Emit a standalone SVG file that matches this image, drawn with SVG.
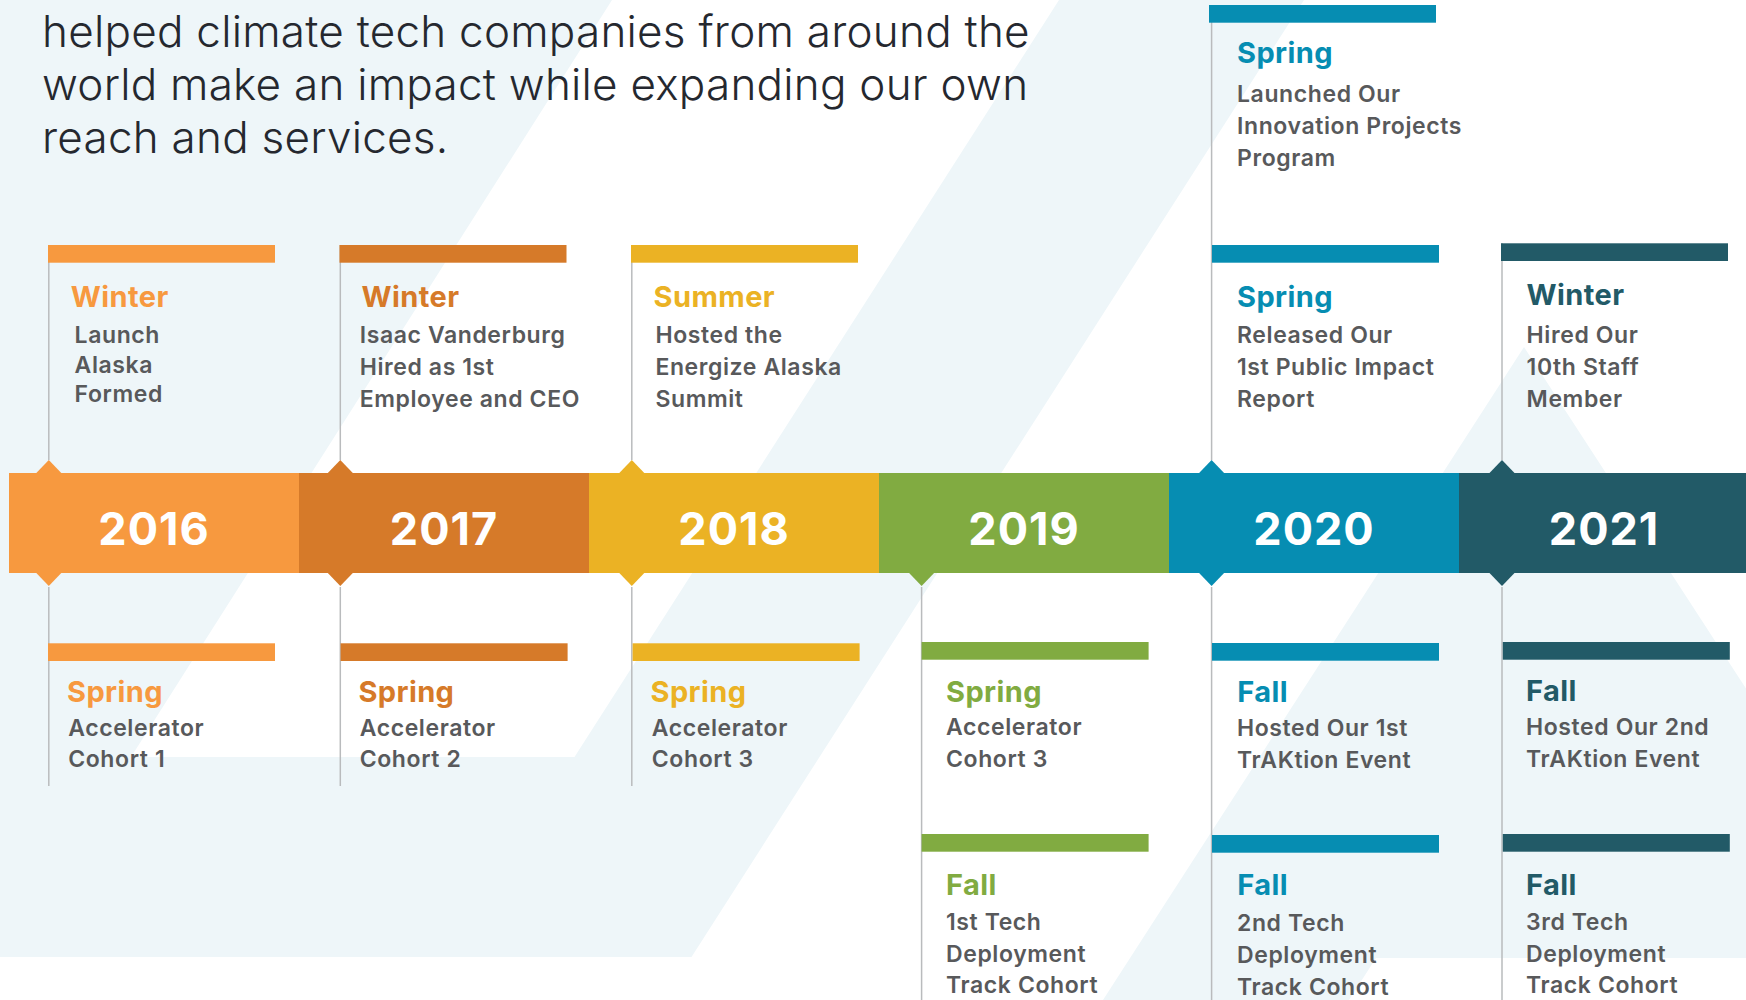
<svg xmlns="http://www.w3.org/2000/svg" width="1746" height="1000" viewBox="0 0 1746 1000">
  <style>
    .bg { fill: #eef6f9; }
    .intro { font-family: Inter, Lato, sans-serif; font-weight: 300; font-size: 44px; letter-spacing: 0.25px; fill: #25282f; }
    .year { font-family: Inter, Lato, sans-serif; font-weight: 700; font-size: 45px; letter-spacing: 1px; fill: #ffffff; text-anchor: middle; }
    .season { font-family: Inter, Lato, sans-serif; font-weight: 700; font-size: 29px; letter-spacing: 0.4px; }
    .body { font-family: Inter, Lato, sans-serif; font-weight: 600; font-size: 23px; letter-spacing: 0.6px; fill: #58595b; }
    .stem { stroke: #b9bbbd; stroke-width: 1.5; fill: none; }
    .c16 { fill: #f7993f; } .c17 { fill: #d67a29; } .c18 { fill: #ebb224; }
    .c19 { fill: #81ab41; } .c20 { fill: #068db2; } .c21 { fill: #225a67; }
  </style>
  <defs>
    <!-- colored header strip of an event card -->
    <rect id="strip" width="227" height="17.7"/>
    <!-- half diamonds that mark an event on the year band -->
    <path id="tipUp" d="M-12.5 0 L0 -13 L12.5 0 Z"/>
    <path id="tipDown" d="M-12.5 0 L0 13 L12.5 0 Z"/>
  </defs>

  <rect width="1746" height="1000" fill="#ffffff"/>

  <!-- background chevrons -->
  <g id="backdrop">
    <path class="bg" d="M0 0 L612 0 L131 757 L574.5 757 L1059 0 L1304 0 L691.5 957 L0 957 Z"/>
    <path class="bg" d="M1524 347 L1746 688.5 L1746 958 L1376 958 L1349 1000 L1103 1000 Z"/>
  </g>

  <g id="intro">
    <text class="intro" x="42" y="47">helped climate tech companies from around the</text>
    <text class="intro" x="42" y="100">world make an impact while expanding our own</text>
    <text class="intro" x="42" y="153">reach and services.</text>
  </g>

  <!-- connectors: grey stems from the cards to the band -->
  <g id="connectors">
    <line class="stem" x1="48.8" y1="245" x2="48.8" y2="460"/>
    <line class="stem" x1="340.3" y1="245" x2="340.3" y2="460"/>
    <line class="stem" x1="631.8" y1="245" x2="631.8" y2="460"/>
    <line class="stem" x1="1211.6" y1="5" x2="1211.6" y2="460"/>
    <line class="stem" x1="1502" y1="243" x2="1502" y2="460"/>
    <line class="stem" x1="48.8" y1="587" x2="48.8" y2="786"/>
    <line class="stem" x1="340.3" y1="587" x2="340.3" y2="786"/>
    <line class="stem" x1="631.8" y1="587" x2="631.8" y2="786"/>
    <line class="stem" x1="921.6" y1="587" x2="921.6" y2="1000"/>
    <line class="stem" x1="1211.6" y1="587" x2="1211.6" y2="1000"/>
    <line class="stem" x1="1502" y1="587" x2="1502" y2="1000"/>
  </g>

  <!-- year band -->
  <g id="band">
    <g id="y2016">
      <rect class="c16" x="9" y="473" width="290" height="100"/>
      <use href="#tipUp" class="c16" x="48.8" y="473"/>
      <use href="#tipDown" class="c16" x="48.8" y="573"/>
      <text class="year" x="154" y="545">2016</text>
    </g>
    <g id="y2017">
      <rect class="c17" x="299" y="473" width="290" height="100"/>
      <use href="#tipUp" class="c17" x="340.3" y="473"/>
      <use href="#tipDown" class="c17" x="340.3" y="573"/>
      <text class="year" x="444" y="545">2017</text>
    </g>
    <g id="y2018">
      <rect class="c18" x="589" y="473" width="290" height="100"/>
      <use href="#tipUp" class="c18" x="631.8" y="473"/>
      <use href="#tipDown" class="c18" x="631.8" y="573"/>
      <text class="year" x="734" y="545">2018</text>
    </g>
    <g id="y2019">
      <rect class="c19" x="879" y="473" width="290" height="100"/>
      <use href="#tipDown" class="c19" x="921.6" y="573"/>
      <text class="year" x="1024" y="545">2019</text>
    </g>
    <g id="y2020">
      <rect class="c20" x="1169" y="473" width="290" height="100"/>
      <use href="#tipUp" class="c20" x="1211.6" y="473"/>
      <use href="#tipDown" class="c20" x="1211.6" y="573"/>
      <text class="year" x="1314" y="545">2020</text>
    </g>
    <g id="y2021">
      <rect class="c21" x="1459" y="473" width="287" height="100"/>
      <use href="#tipUp" class="c21" x="1502" y="473"/>
      <use href="#tipDown" class="c21" x="1502" y="573"/>
      <text class="year" x="1604" y="545">2021</text>
    </g>
  </g>

  <!-- cards above the band -->
  <g id="e2016-winter">
    <use href="#strip" class="c16" x="48" y="245"/>
    <text class="season c16" x="70.8" y="307">Winter</text>
    <text class="body" x="74.6" y="343">Launch</text>
    <text class="body" x="74.6" y="372.5">Alaska</text>
    <text class="body" x="74.6" y="402">Formed</text>
  </g>
  <g id="e2017-winter">
    <use href="#strip" class="c17" x="339.5" y="245"/>
    <text class="season c17" x="361.6" y="307">Winter</text>
    <text class="body" x="359.7" y="343">Isaac Vanderburg</text>
    <text class="body" x="359.7" y="375">Hired as 1st</text>
    <text class="body" x="359.7" y="406.7">Employee and CEO</text>
  </g>
  <g id="e2018-summer">
    <use href="#strip" class="c18" x="631" y="245"/>
    <text class="season c18" x="653.6" y="307">Summer</text>
    <text class="body" x="655.4" y="343">Hosted the</text>
    <text class="body" x="655.4" y="375">Energize Alaska</text>
    <text class="body" x="655.4" y="406.7">Summit</text>
  </g>
  <g id="e2020-spring-a">
    <use href="#strip" class="c20" x="1209" y="5"/>
    <text class="season c20" x="1237" y="63">Spring</text>
    <text class="body" x="1237" y="101.7">Launched Our</text>
    <text class="body" x="1237" y="133.5">Innovation Projects</text>
    <text class="body" x="1237" y="165.5">Program</text>
  </g>
  <g id="e2020-spring-b">
    <use href="#strip" class="c20" x="1212" y="245"/>
    <text class="season c20" x="1237" y="306.7">Spring</text>
    <text class="body" x="1237" y="342.7">Released Our</text>
    <text class="body" x="1237" y="375">1st Public Impact</text>
    <text class="body" x="1237" y="406.7">Report</text>
  </g>
  <g id="e2021-winter">
    <use href="#strip" class="c21" x="1501" y="243.3"/>
    <text class="season c21" x="1526.6" y="305">Winter</text>
    <text class="body" x="1526.6" y="342.7">Hired Our</text>
    <text class="body" x="1526.6" y="375">10th Staff</text>
    <text class="body" x="1526.6" y="406.7">Member</text>
  </g>

  <!-- cards below the band -->
  <g id="e2016-spring">
    <use href="#strip" class="c16" x="48" y="643.3"/>
    <text class="season c16" x="67" y="701.7">Spring</text>
    <text class="body" x="68.2" y="736">Accelerator</text>
    <text class="body" x="68.2" y="767.3">Cohort 1</text>
  </g>
  <g id="e2017-spring">
    <use href="#strip" class="c17" x="340.6" y="643.3"/>
    <text class="season c17" x="358.4" y="701.7">Spring</text>
    <text class="body" x="359.7" y="736">Accelerator</text>
    <text class="body" x="359.7" y="767.3">Cohort 2</text>
  </g>
  <g id="e2018-spring">
    <use href="#strip" class="c18" x="632.6" y="643.3"/>
    <text class="season c18" x="650.5" y="701.7">Spring</text>
    <text class="body" x="651.8" y="736">Accelerator</text>
    <text class="body" x="651.8" y="767.3">Cohort 3</text>
  </g>
  <g id="e2019-spring">
    <use href="#strip" class="c19" x="921.6" y="642"/>
    <text class="season c19" x="946" y="701.7">Spring</text>
    <text class="body" x="946" y="735">Accelerator</text>
    <text class="body" x="946" y="766.7">Cohort 3</text>
  </g>
  <g id="e2019-fall">
    <use href="#strip" class="c19" x="921.6" y="834"/>
    <text class="season c19" x="946" y="895">Fall</text>
    <text class="body" x="946" y="930">1st Tech</text>
    <text class="body" x="946" y="961.7">Deployment</text>
    <text class="body" x="946" y="993.3">Track Cohort</text>
  </g>
  <g id="e2020-fall-a">
    <use href="#strip" class="c20" x="1212" y="643"/>
    <text class="season c20" x="1237.3" y="701.7">Fall</text>
    <text class="body" x="1237" y="736">Hosted Our 1st</text>
    <text class="body" x="1237" y="768.3">TrAKtion Event</text>
  </g>
  <g id="e2020-fall-b">
    <use href="#strip" class="c20" x="1212" y="835"/>
    <text class="season c20" x="1237.3" y="895">Fall</text>
    <text class="body" x="1237" y="931">2nd Tech</text>
    <text class="body" x="1237" y="963.3">Deployment</text>
    <text class="body" x="1237" y="995">Track Cohort</text>
  </g>
  <g id="e2021-fall-a">
    <use href="#strip" class="c21" x="1502.8" y="642"/>
    <text class="season c21" x="1526" y="701">Fall</text>
    <text class="body" x="1526" y="735">Hosted Our 2nd</text>
    <text class="body" x="1526" y="766.7">TrAKtion Event</text>
  </g>
  <g id="e2021-fall-b">
    <use href="#strip" class="c21" x="1502.8" y="834"/>
    <text class="season c21" x="1526" y="895">Fall</text>
    <text class="body" x="1526" y="930">3rd Tech</text>
    <text class="body" x="1526" y="961.7">Deployment</text>
    <text class="body" x="1526" y="993.3">Track Cohort</text>
  </g>
</svg>
